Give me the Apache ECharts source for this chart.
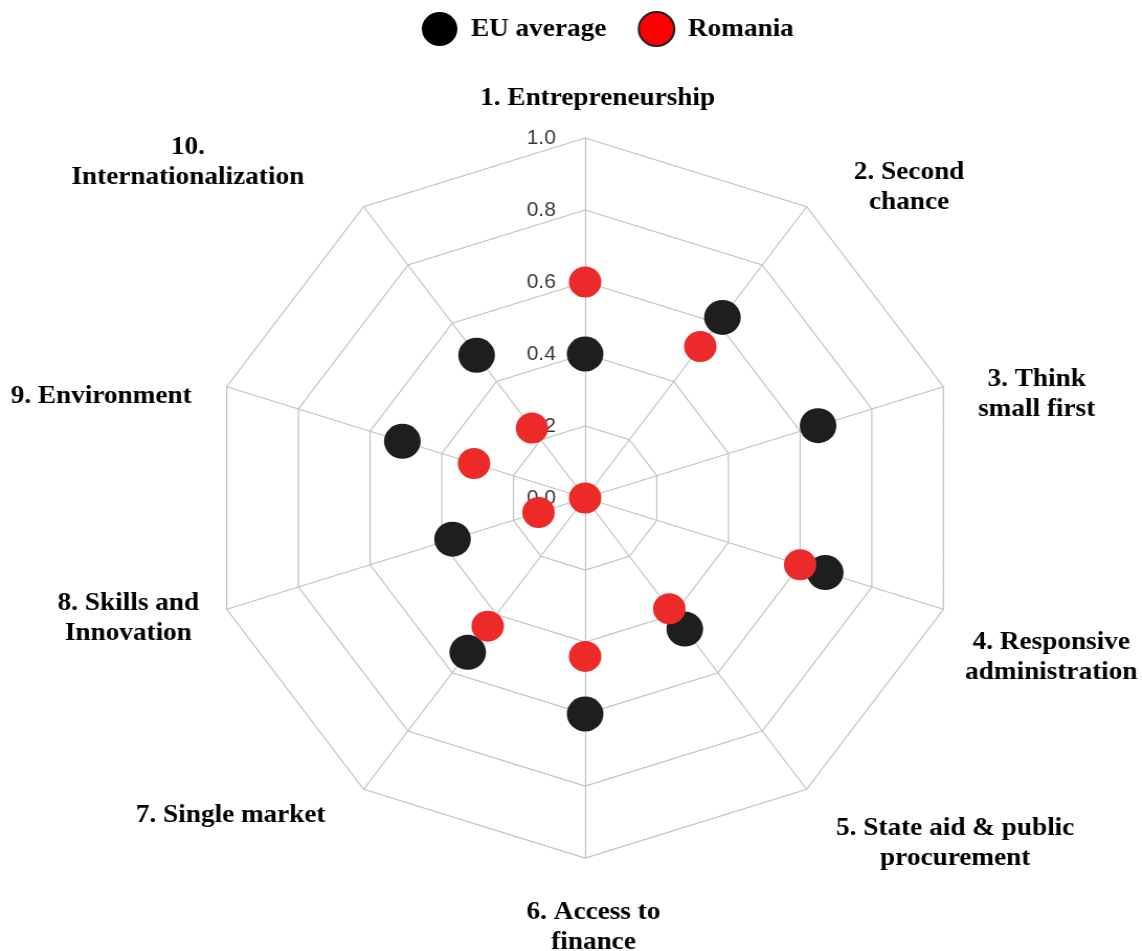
<!DOCTYPE html>
<html>
<head>
<meta charset="utf-8">
<script src="https://cdn.jsdelivr.net/npm/echarts@6/dist/echarts.min.js"></script>
<style>
  html, body { margin: 0; padding: 0; background: #fff; overflow: hidden; }
  /* the original figure is a little wider than it is tall, so stretch horizontally */
  #chart { width: 1091px; height: 951px; transform: scaleX(1.0467); transform-origin: 0 0; }
</style>
</head>
<body>
<div id="chart"></div>
<script>
// categories, clockwise from the top
const categories = [
  '1. Entrepreneurship',
  '2. Second\nchance',
  '3. Think\nsmall first',
  '4. Responsive\nadministration',
  '5. State aid & public\nprocurement',
  '6. Access to\nfinance',
  '7. Single market',
  '8. Skills and\nInnovation',
  '9. Environment',
  '10.\nInternationalization'
];
const seriesNames = ['EU average', 'Romania'];
const euAverage = [0.40, 0.62, 0.65, 0.67, 0.45, 0.60, 0.53, 0.37, 0.51, 0.49];
const romania = [0.60, 0.52, '-', 0.60, 0.38, 0.44, 0.44, 0.13, 0.31, 0.24];

// label centre offset from each outer vertex (px), same order as categories
const nameOffsets = [[12, -30], [98, -19], [89, 8], [103, 48], [142, 54],
                     [8, 69], [-127, 26], [-94, 9], [-120, 10], [-168, -44]];
const nameLineHeight = 30;
const gridColor = '#c2c2c2';

// echarts lays indicators out counter-clockwise, so feed them in reverse after the first
const order = [0, 9, 8, 7, 6, 5, 4, 3, 2, 1];

let chart = echarts.init(document.getElementById('chart'));

function nameStyle(name, off) {
  let h = name.split('\n').length * nameLineHeight;
  let padL = Math.max(0, 2 * off[0]);
  let padR = Math.max(0, -2 * off[0]);
  if (off[1] <= 0) {
    return { align: 'center', verticalAlign: 'bottom', padding: [0, padR, -(off[1] + h / 2), padL] };
  }
  return { align: 'center', verticalAlign: 'top', padding: [off[1] - h / 2, padR, 0, padL] };
}

let indicators = order.map((k, i) => {
  let ind = {
    name: categories[k],
    min: 0,
    max: 1,
    nameGap: 0,
    nameTextStyle: nameStyle(categories[k], nameOffsets[k])
  };
  if (i === 0) {
    ind.axisLabel = {
      show: true,
      fontFamily: 'Liberation Sans',
      fontSize: 20,
      color: '#3a3a3a',
      margin: 28,
      formatter: v => v.toFixed(1)
    };
  }
  return ind;
});

let option = {
  backgroundColor: '#fff',
  animation: false,
  legend: {
    top: 6,
    left: 398,
    icon: 'circle',
    itemWidth: 34,
    itemHeight: 34,
    itemGap: 30,
    textStyle: {
      fontFamily: 'Liberation Serif',
      fontWeight: 'bold',
      fontSize: 26,
      color: '#000',
      padding: [0, 0, 0, 8]
    },
    data: [
      { name: seriesNames[0], itemStyle: { color: '#000' } },
      { name: seriesNames[1], itemStyle: { color: '#f00', borderColor: '#222', borderWidth: 2 } }
    ]
  },
  radar: {
    center: [559, 498],
    radius: 360,
    startAngle: 90,
    splitNumber: 5,
    shape: 'polygon',
    indicator: indicators,
    axisName: {
      fontFamily: 'Liberation Serif',
      fontWeight: 'bold',
      fontSize: 26,
      color: '#000',
      lineHeight: nameLineHeight
    },
    axisLine: { lineStyle: { color: gridColor, width: 1.2 } },
    splitLine: { lineStyle: { color: gridColor, width: 1.2 } },
    splitArea: { show: false },
    axisLabel: { show: false }
  },
  series: [{
    type: 'radar',
    z: 3,
    data: [
      {
        name: seriesNames[0],
        value: order.map(k => euAverage[k]),
        symbol: 'circle',
        symbolSize: 35,
        itemStyle: { color: '#1e1e1e' },
        lineStyle: { width: 0, opacity: 0 }
      },
      {
        name: seriesNames[1],
        value: order.map(k => romania[k]),
        symbol: 'circle',
        symbolSize: 31,
        itemStyle: { color: '#ec2a2a' },
        lineStyle: { width: 0, opacity: 0 }
      }
    ]
  }]
};

chart.setOption(option);
window.addEventListener('resize', () => chart.resize());
</script>
</body>
</html>
